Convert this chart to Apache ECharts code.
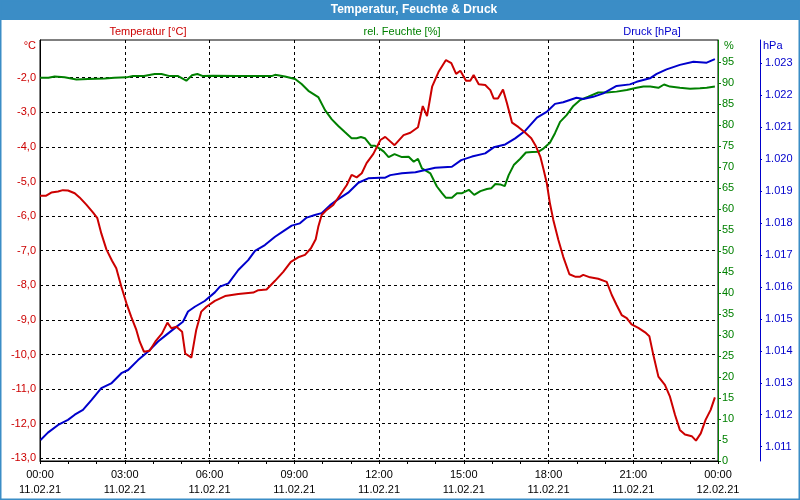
<!DOCTYPE html>
<html>
<head>
<meta charset="utf-8">
<script src="https://cdn.jsdelivr.net/npm/echarts@6/dist/echarts.min.js"></script>
<style>html,body{margin:0;padding:0;background:#fff}#c{width:800px;height:500px}</style>
</head>
<body>
<div id="c"></div>
<script>
// ---- data (hours since 11.02.21 00:00) ----
const tempTimes = [0.00,0.22,0.40,0.64,0.81,0.99,1.23,1.40,1.64,1.88,2.03,2.17,2.35,2.55,2.70,2.88,3.06,3.23,3.41,3.53,3.68,3.88,4.08,4.32,4.51,4.65,4.83,5.03,5.14,5.36,5.53,5.71,5.89,6.19,6.55,7.02,7.55,7.73,8.02,8.32,8.61,8.88,9.14,9.38,9.59,9.76,9.85,9.97,10.15,10.38,10.62,10.86,11.03,11.21,11.39,11.56,11.80,12.05,12.22,12.55,12.87,13.11,13.38,13.55,13.70,13.88,14.11,14.37,14.56,14.73,14.88,15.08,15.23,15.35,15.53,15.76,15.94,16.06,16.21,16.39,16.53,16.71,16.94,17.18,17.39,17.56,17.71,17.83,17.94,18.05,18.17,18.35,18.52,18.74,18.94,19.12,19.23,19.47,19.76,20.06,20.24,20.41,20.59,20.77,20.94,21.18,21.42,21.57,21.71,21.89,22.12,22.30,22.48,22.65,22.83,23.07,23.22,23.39,23.56,23.74,23.89];
const tempValues = [-5.41,-5.41,-5.32,-5.29,-5.25,-5.26,-5.34,-5.46,-5.67,-5.90,-6.06,-6.50,-6.96,-7.29,-7.51,-8.04,-8.52,-8.91,-9.29,-9.63,-9.92,-9.89,-9.63,-9.39,-9.08,-9.24,-9.20,-9.34,-9.97,-10.09,-9.29,-8.76,-8.62,-8.45,-8.31,-8.25,-8.21,-8.14,-8.12,-7.87,-7.61,-7.32,-7.19,-7.12,-6.93,-6.67,-6.31,-5.97,-5.82,-5.68,-5.39,-5.10,-4.81,-4.88,-4.76,-4.47,-4.20,-3.80,-3.71,-3.95,-3.66,-3.59,-3.43,-2.82,-3.11,-2.26,-1.83,-1.49,-1.58,-1.89,-1.80,-2.09,-2.09,-1.92,-2.19,-2.21,-2.36,-2.60,-2.60,-2.34,-2.74,-3.30,-3.43,-3.59,-3.75,-3.99,-4.28,-4.67,-5.05,-5.63,-6.11,-6.69,-7.17,-7.68,-7.75,-7.75,-7.70,-7.77,-7.81,-7.90,-8.28,-8.57,-8.86,-8.95,-9.13,-9.23,-9.36,-9.47,-10.01,-10.64,-10.88,-11.22,-11.75,-12.18,-12.31,-12.36,-12.49,-12.28,-11.89,-11.60,-11.24];

const humTimes = [0.00,0.30,0.52,0.87,1.29,1.70,2.29,2.63,3.06,3.29,3.68,4.06,4.30,4.59,4.89,5.18,5.38,5.57,5.77,6.12,7.00,8.20,8.32,8.67,9.03,9.26,9.50,9.85,10.09,10.33,10.56,10.80,11.03,11.21,11.36,11.50,11.72,11.86,12.05,12.17,12.34,12.55,12.81,13.05,13.23,13.38,13.52,13.82,14.05,14.23,14.37,14.58,14.76,14.94,15.18,15.37,15.59,15.82,15.98,16.12,16.29,16.45,16.59,16.77,17.00,17.20,17.42,17.65,17.83,18.05,18.23,18.41,18.64,18.88,19.12,19.41,19.76,20.06,20.41,20.77,21.12,21.36,21.60,21.89,22.09,22.30,22.65,23.01,23.36,23.60,23.89];
const humValues = [91.3,91.3,91.6,91.4,90.9,91.0,91.1,91.3,91.4,91.7,91.7,92.2,92.2,91.7,91.7,90.6,91.9,92.2,91.7,91.8,91.7,91.7,92.0,91.6,91.0,89.8,88.2,86.7,83.6,81.4,79.8,78.3,76.9,76.9,77.2,76.9,75.1,75.1,74.3,73.7,72.4,73.1,72.4,72.5,71.3,72.0,69.7,68.5,65.4,63.8,62.7,62.7,63.8,63.8,64.6,63.4,64.3,64.8,65.0,66.0,65.9,65.5,68.1,70.5,72.0,73.5,73.6,73.7,74.5,75.8,78.1,80.8,82.4,84.6,86.0,86.8,87.8,87.8,88.0,88.4,88.9,89.2,89.2,88.9,89.7,89.2,88.9,88.7,88.8,88.9,89.2];

const pressTimes = [0.02,0.28,0.64,0.99,1.23,1.52,1.82,2.17,2.52,2.88,3.12,3.47,3.82,4.18,4.47,4.77,5.06,5.24,5.48,5.83,6.19,6.37,6.67,7.02,7.37,7.61,7.96,8.32,8.67,8.91,9.20,9.44,9.73,9.97,10.27,10.56,10.91,11.27,11.62,12.04,12.22,12.40,12.81,13.29,13.64,13.99,14.58,14.91,15.29,15.76,16.06,16.47,16.82,17.18,17.59,17.95,18.23,18.52,18.99,19.23,19.58,19.94,20.41,20.88,21.12,21.59,21.83,22.18,22.65,23.13,23.60,23.89];
const pressValues = [1011.21,1011.44,1011.68,1011.84,1012.00,1012.15,1012.46,1012.83,1012.98,1013.30,1013.40,1013.71,1013.97,1014.29,1014.50,1014.71,1014.91,1015.23,1015.38,1015.56,1015.83,1016.01,1016.11,1016.53,1016.84,1017.13,1017.31,1017.57,1017.78,1017.92,1017.99,1018.17,1018.25,1018.31,1018.56,1018.75,1018.95,1019.26,1019.40,1019.42,1019.42,1019.50,1019.56,1019.59,1019.66,1019.73,1019.76,1019.97,1020.08,1020.18,1020.37,1020.46,1020.65,1020.89,1021.30,1021.49,1021.73,1021.78,1021.92,1021.88,1021.95,1022.06,1022.29,1022.34,1022.42,1022.53,1022.67,1022.81,1022.95,1023.05,1023.02,1023.13];

const tempTicks = [-13,-12,-11,-10,-9,-8,-7,-6,-5,-4,-3,-2];
const humTicks = [0,5,10,15,20,25,30,35,40,45,50,55,60,65,70,75,80,85,90,95];
const pressTicks = [1011,1012,1013,1014,1015,1016,1017,1018,1019,1020,1021,1022,1023];

const chartTitle = 'Temperatur, Feuchte & Druck';
const seriesNames = ['Temperatur [°C]', 'rel. Feuchte [%]', 'Druck [hPa]'];

// ---- chart ----
const zip = (a, b) => a.map((t, i) => [t, b[i]]);
const RED = '#cc0000', GREEN = '#008000', BLUE = '#0000cc', BAR = '#3b8dc6';
const FONT = '"Liberation Sans", Arial, sans-serif';

const chart = echarts.init(document.getElementById('c'), null, {renderer: 'canvas'});
const option = {
  animation: false,
  backgroundColor: '#ffffff',
  textStyle: {fontFamily: FONT},
  grid: {left: 40, right: 82, top: 40, bottom: 39, show: true, borderColor: '#000', borderWidth: 1, containLabel: false},
  graphic: [
    {type: 'rect', z: 0, shape: {x: 0, y: 0, width: 800, height: 20}, style: {fill: BAR}},
    {type: 'rect', z: 0, shape: {x: 0.5, y: 0.5, width: 799, height: 499}, style: {fill: null, stroke: BAR, lineWidth: 2}},
    {type: 'text', x: 414, y: 10, style: {text: chartTitle, fill: '#fff', font: 'bold 12px ' + FONT, align: 'center', verticalAlign: 'middle'}},
    {type: 'text', x: 148, y: 32, style: {text: seriesNames[0], fill: RED, font: '11px ' + FONT, align: 'center', verticalAlign: 'middle'}},
    {type: 'text', x: 402, y: 32, style: {text: seriesNames[1], fill: GREEN, font: '11px ' + FONT, align: 'center', verticalAlign: 'middle'}},
    {type: 'text', x: 652, y: 32, style: {text: seriesNames[2], fill: BLUE, font: '11px ' + FONT, align: 'center', verticalAlign: 'middle'}}
  ],
  xAxis: {
    type: 'value', min: 0, max: 24, interval: 3,
    axisLine: {lineStyle: {color: '#000', width: 1}},
    axisTick: {show: true, length: 3, lineStyle: {color: '#000'}},
    minorTick: {show: true, splitNumber: 3, length: 3, lineStyle: {color: '#000'}},
    splitLine: {show: true, lineStyle: {color: '#000', width: 1, type: [3, 3]}},
    axisLabel: {
      color: '#000', fontSize: 11, lineHeight: 15, margin: 6,
      formatter: v => {
        const h = Math.round(v) % 24;
        const d = v >= 24 ? '12.02.21' : '11.02.21';
        return (h < 10 ? '0' : '') + h + ':00\n' + d;
      }
    }
  },
  yAxis: [
    {
      type: 'value', position: 'left', min: -13.078, max: -0.91,
      axisLine: {show: true, lineStyle: {color: '#000'}},
      axisTick: {show: false, customValues: tempTicks},
      axisLabel: {customValues: tempTicks, color: RED, fontSize: 11, margin: 4,
        formatter: v => v.toFixed(1).replace('.', ',')},
      splitLine: {show: true, lineStyle: {color: '#000', width: 1, type: [3, 3]}},
      name: '°C', nameLocation: 'end', nameGap: -6,
      nameTextStyle: {color: RED, fontSize: 11, align: 'right', verticalAlign: 'middle', padding: [0, 4, 0, 0]}
    },
    {
      type: 'value', position: 'right', offset: 0, min: 0, max: 100.3,
      axisLine: {show: true, lineStyle: {color: GREEN}},
      axisTick: {show: true, length: 3, customValues: humTicks, lineStyle: {color: GREEN}},
      axisLabel: {customValues: humTicks, color: GREEN, fontSize: 11, margin: 4},
      splitLine: {show: false},
      name: '%', nameLocation: 'end', nameGap: -6,
      nameTextStyle: {color: GREEN, fontSize: 11, align: 'left', verticalAlign: 'middle', padding: [0, 0, 0, 6]}
    },
    {
      type: 'value', position: 'right', offset: 42, min: 1010.552, max: 1023.729,
      axisLine: {show: true, lineStyle: {color: BLUE}},
      axisTick: {show: true, length: 2, customValues: pressTicks, lineStyle: {color: BLUE}},
      axisLabel: {customValues: pressTicks, color: BLUE, fontSize: 11, margin: 5,
        formatter: v => (v / 1000).toFixed(3)},
      splitLine: {show: false},
      name: 'hPa', nameLocation: 'end', nameGap: -6,
      nameTextStyle: {color: BLUE, fontSize: 11, align: 'left', verticalAlign: 'middle', padding: [0, 0, 0, 3]}
    }
  ],
  series: [
    {name: seriesNames[1], type: 'line', yAxisIndex: 1, data: zip(humTimes, humValues), symbol: 'none',
     lineStyle: {color: GREEN, width: 2}, itemStyle: {color: GREEN}},
    {name: seriesNames[2], type: 'line', yAxisIndex: 2, data: zip(pressTimes, pressValues), symbol: 'none',
     lineStyle: {color: BLUE, width: 2}, itemStyle: {color: BLUE}},
    {name: seriesNames[0], type: 'line', yAxisIndex: 0, data: zip(tempTimes, tempValues), symbol: 'none',
     lineStyle: {color: RED, width: 2}, itemStyle: {color: RED}}
  ]
};
chart.setOption(option);
</script>
</body>
</html>
